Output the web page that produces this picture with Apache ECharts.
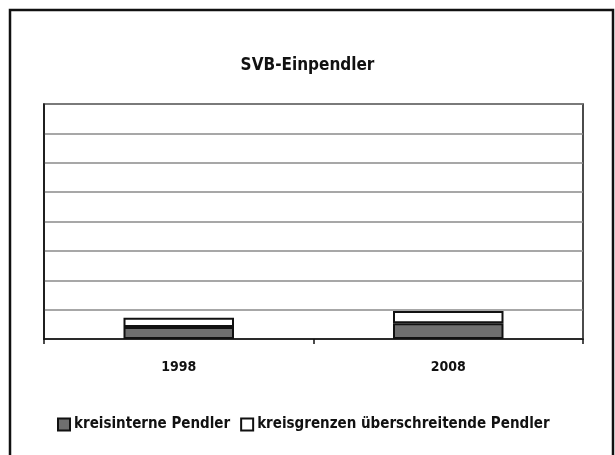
<!DOCTYPE html>
<html>
<head>
<meta charset="utf-8">
<script src="https://cdn.jsdelivr.net/npm/echarts@6/dist/echarts.min.js"></script>
<style>
  html, body { margin: 0; padding: 0; background: #fff; }
  #chart { width: 615px; height: 455px; }
</style>
</head>
<body>
<div id="chart"></div>
<script>
// Sozialversicherungspflichtig Beschäftigte, Einpendler nach Art
const years = ['1998', '2008'];
const kreisintern = [4100, 5400];
const kreisgrenzenUeberschreitend = [3100, 4100];
const seriesNames = ['kreisinterne Pendler', 'kreisgrenzen überschreitende Pendler'];
const yMax = 80000;
const yStep = 10000;

const FONT = '"DejaVu Sans Condensed", sans-serif';

const chart = echarts.init(document.getElementById('chart'), null, { renderer: 'canvas' });

chart.setOption({
  backgroundColor: '#ffffff',
  animation: false,
  title: {
    text: 'SVB-Einpendler',
    left: 'center',
    top: 52,
    textStyle: { fontFamily: FONT, fontSize: 17, fontWeight: 'bold', color: '#111' }
  },
  graphic: [{
    type: 'rect',
    shape: { x: 10, y: 10, width: 603, height: 460 },
    style: { fill: 'none', stroke: '#111', lineWidth: 2.5 },
    silent: true
  }],
  legend: {
    bottom: 18,
    left: 52,
    itemWidth: 12,
    itemHeight: 12,
    itemGap: 10,
    icon: 'rect',
    textStyle: { fontFamily: FONT, fontSize: 15, fontWeight: 'bold', color: '#111', padding: [0, 0, 0, -1] },
    data: seriesNames
  },
  grid: {
    left: 44, right: 32, top: 104, bottom: 116,
    show: true, borderColor: '#111', borderWidth: 1.5,
    containLabel: false
  },
  xAxis: {
    type: 'category',
    data: years,
    axisLine: { lineStyle: { color: '#111', width: 1.5 } },
    axisTick: { show: true, length: 5, lineStyle: { color: '#111', width: 1.5 } },
    axisLabel: { fontFamily: FONT, fontSize: 14, fontWeight: 'bold', color: '#111', margin: 21 }
  },
  yAxis: {
    type: 'value',
    min: 0, max: yMax, interval: yStep,
    axisLine: { show: true, lineStyle: { color: '#111', width: 1.5 } },
    axisTick: { show: false },
    axisLabel: { show: false },
    splitLine: { lineStyle: { color: '#8a8a8a', width: 1.5 } }
  },
  series: [
    {
      name: seriesNames[0],
      type: 'bar',
      stack: 'pendler',
      barWidth: '41%',
      data: kreisintern,
      itemStyle: { color: '#6f6f6f', borderColor: '#111', borderWidth: 2 }
    },
    {
      name: seriesNames[1],
      type: 'bar',
      stack: 'pendler',
      barWidth: '41%',
      data: kreisgrenzenUeberschreitend,
      itemStyle: { color: '#ffffff', borderColor: '#111', borderWidth: 2 }
    }
  ]
});
</script>
</body>
</html>
